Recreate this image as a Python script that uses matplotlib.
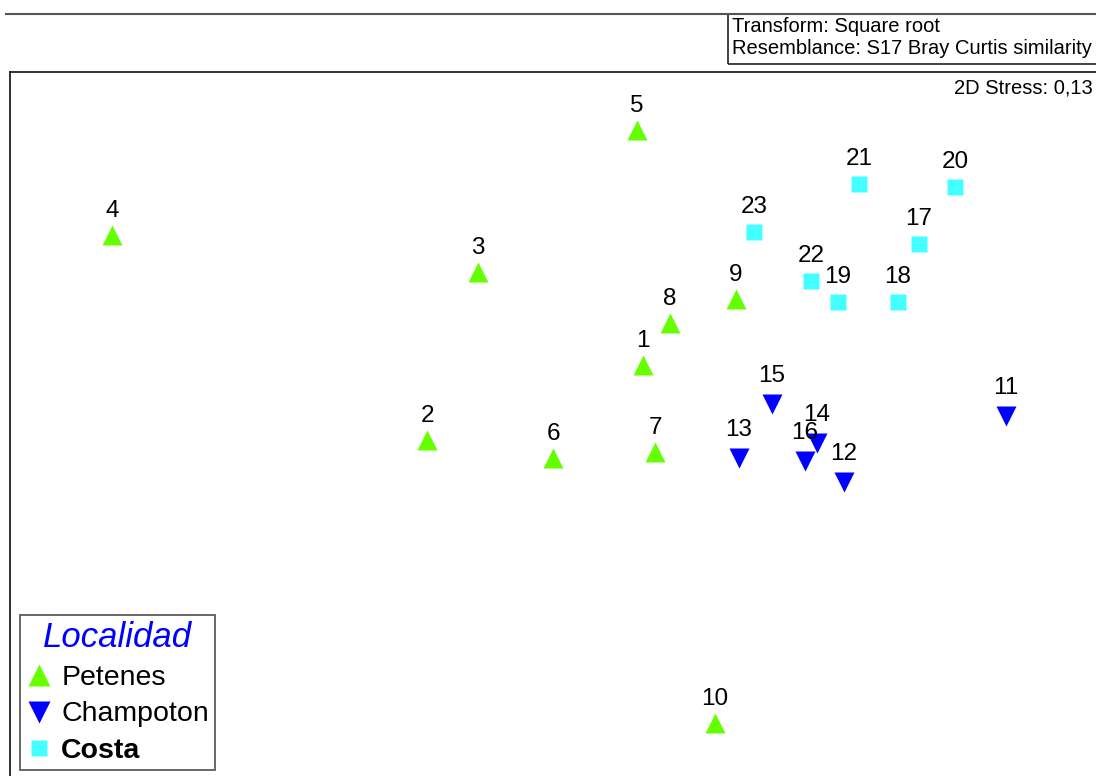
import matplotlib
matplotlib.use("Agg")
from matplotlib import pyplot as plt
from matplotlib.lines import Line2D
from matplotlib.patches import Rectangle

plt.rcParams['font.family'] = ['Liberation Sans', 'DejaVu Sans']

# nMDS coordinates
petenes_ids = ["1", "2", "3", "4", "5", "6", "7", "8", "9", "10"]
petenes_x = [0.01, -0.71, -0.54, -1.76, -0.01, -0.29, 0.05, 0.10, 0.32, 0.25]
petenes_y = [0.12, -0.13, 0.43, 0.55, 0.90, -0.19, -0.17, 0.26, 0.34, -1.07]

champoton_ids = ["11", "12", "13", "14", "15", "16"]
champoton_x = [1.22, 0.68, 0.33, 0.59, 0.44, 0.55]
champoton_y = [-0.05, -0.27, -0.19, -0.14, -0.01, -0.20]

costa_ids = ["17", "18", "19", "20", "21", "22", "23"]
costa_x = [0.93, 0.86, 0.66, 1.05, 0.73, 0.57, 0.38]
costa_y = [0.52, 0.33, 0.33, 0.71, 0.72, 0.40, 0.56]

groups = ["Petenes", "Champoton", "Costa"]
stress = "0,13"

W, H = 1096, 776
fig = plt.figure(figsize=(W / 100, H / 100), dpi=100)

def fx(px):
    return px / W

def fy(py):
    return 1 - py / H

# plot frame: left edge at 10px, top at 72px, runs off right and bottom
ax = fig.add_axes([fx(10), fy(796), fx(1120) - fx(10), fy(72) - fy(796)])
ax.set_xlim(-2.1, 1.6)
ax.set_ylim(-1.3133, 1.0933)
ax.set_xticks([])
ax.set_yticks([])
ax.spines['right'].set_visible(False)
ax.spines['bottom'].set_visible(False)
for s in ['left', 'top']:
    ax.spines[s].set_linewidth(1.3)
    ax.spines[s].set_color('#222222')

green = '#66ff00'
blue = '#0000ff'
cyan = '#44ffff'

h1, = ax.plot(petenes_x, petenes_y, '^', color=green, ms=14.5, mec='none', linestyle='none')
h2, = ax.plot(champoton_x, champoton_y, 'v', color=blue, ms=14.5, mec='none', linestyle='none')
h3, = ax.plot(costa_x, costa_y, 's', color=cyan, ms=11, mec='none', linestyle='none')

for ids, xs, ys, off in [(petenes_ids, petenes_x, petenes_y, 18),
                         (champoton_ids, champoton_x, champoton_y, 22),
                         (costa_ids, costa_x, costa_y, 19)]:
    for lab, x, y in zip(ids, xs, ys):
        ax.annotate(lab, (x, y), xytext=(0, off), textcoords='offset pixels',
                    ha='center', va='baseline', fontsize=17.5, color='black')

fig.text(fx(1093), fy(88), "2D Stress: " + stress, ha='right', va='center', fontsize=14.5)

leg = ax.legend([h1, h2, h3], groups, title="Localidad", loc='lower left',
                bbox_to_anchor=(fx(20), fy(770)), bbox_transform=fig.transFigure,
                prop={'size': 20.5}, title_fontproperties={'size': 25, 'style': 'italic'},
                frameon=True, fancybox=False, edgecolor='#333333',
                handletextpad=0.35, handlelength=0.9, borderpad=0.2,
                labelspacing=0.38, borderaxespad=0, markerscale=1.1)
leg.get_title().set_color(blue)
leg.get_frame().set_linewidth(1.3)
leg.get_texts()[2].set_fontweight('bold')

# header with transform info
fig.add_artist(Line2D([fx(6), fx(1096)], [fy(14), fy(14)], color='#555555', lw=1.5))
fig.add_artist(Rectangle((fx(728), fy(64)), fx(400), fy(14) - fy(64), fill=False,
                         edgecolor='#333333', lw=1.3, transform=fig.transFigure))
fig.text(fx(732), fy(26), "Transform: Square root", ha='left', va='center', fontsize=14.5)
fig.text(fx(732), fy(49), "Resemblance: S17 Bray Curtis similarity", ha='left', va='center', fontsize=14.5)

fig.savefig("out.png", dpi=100)
